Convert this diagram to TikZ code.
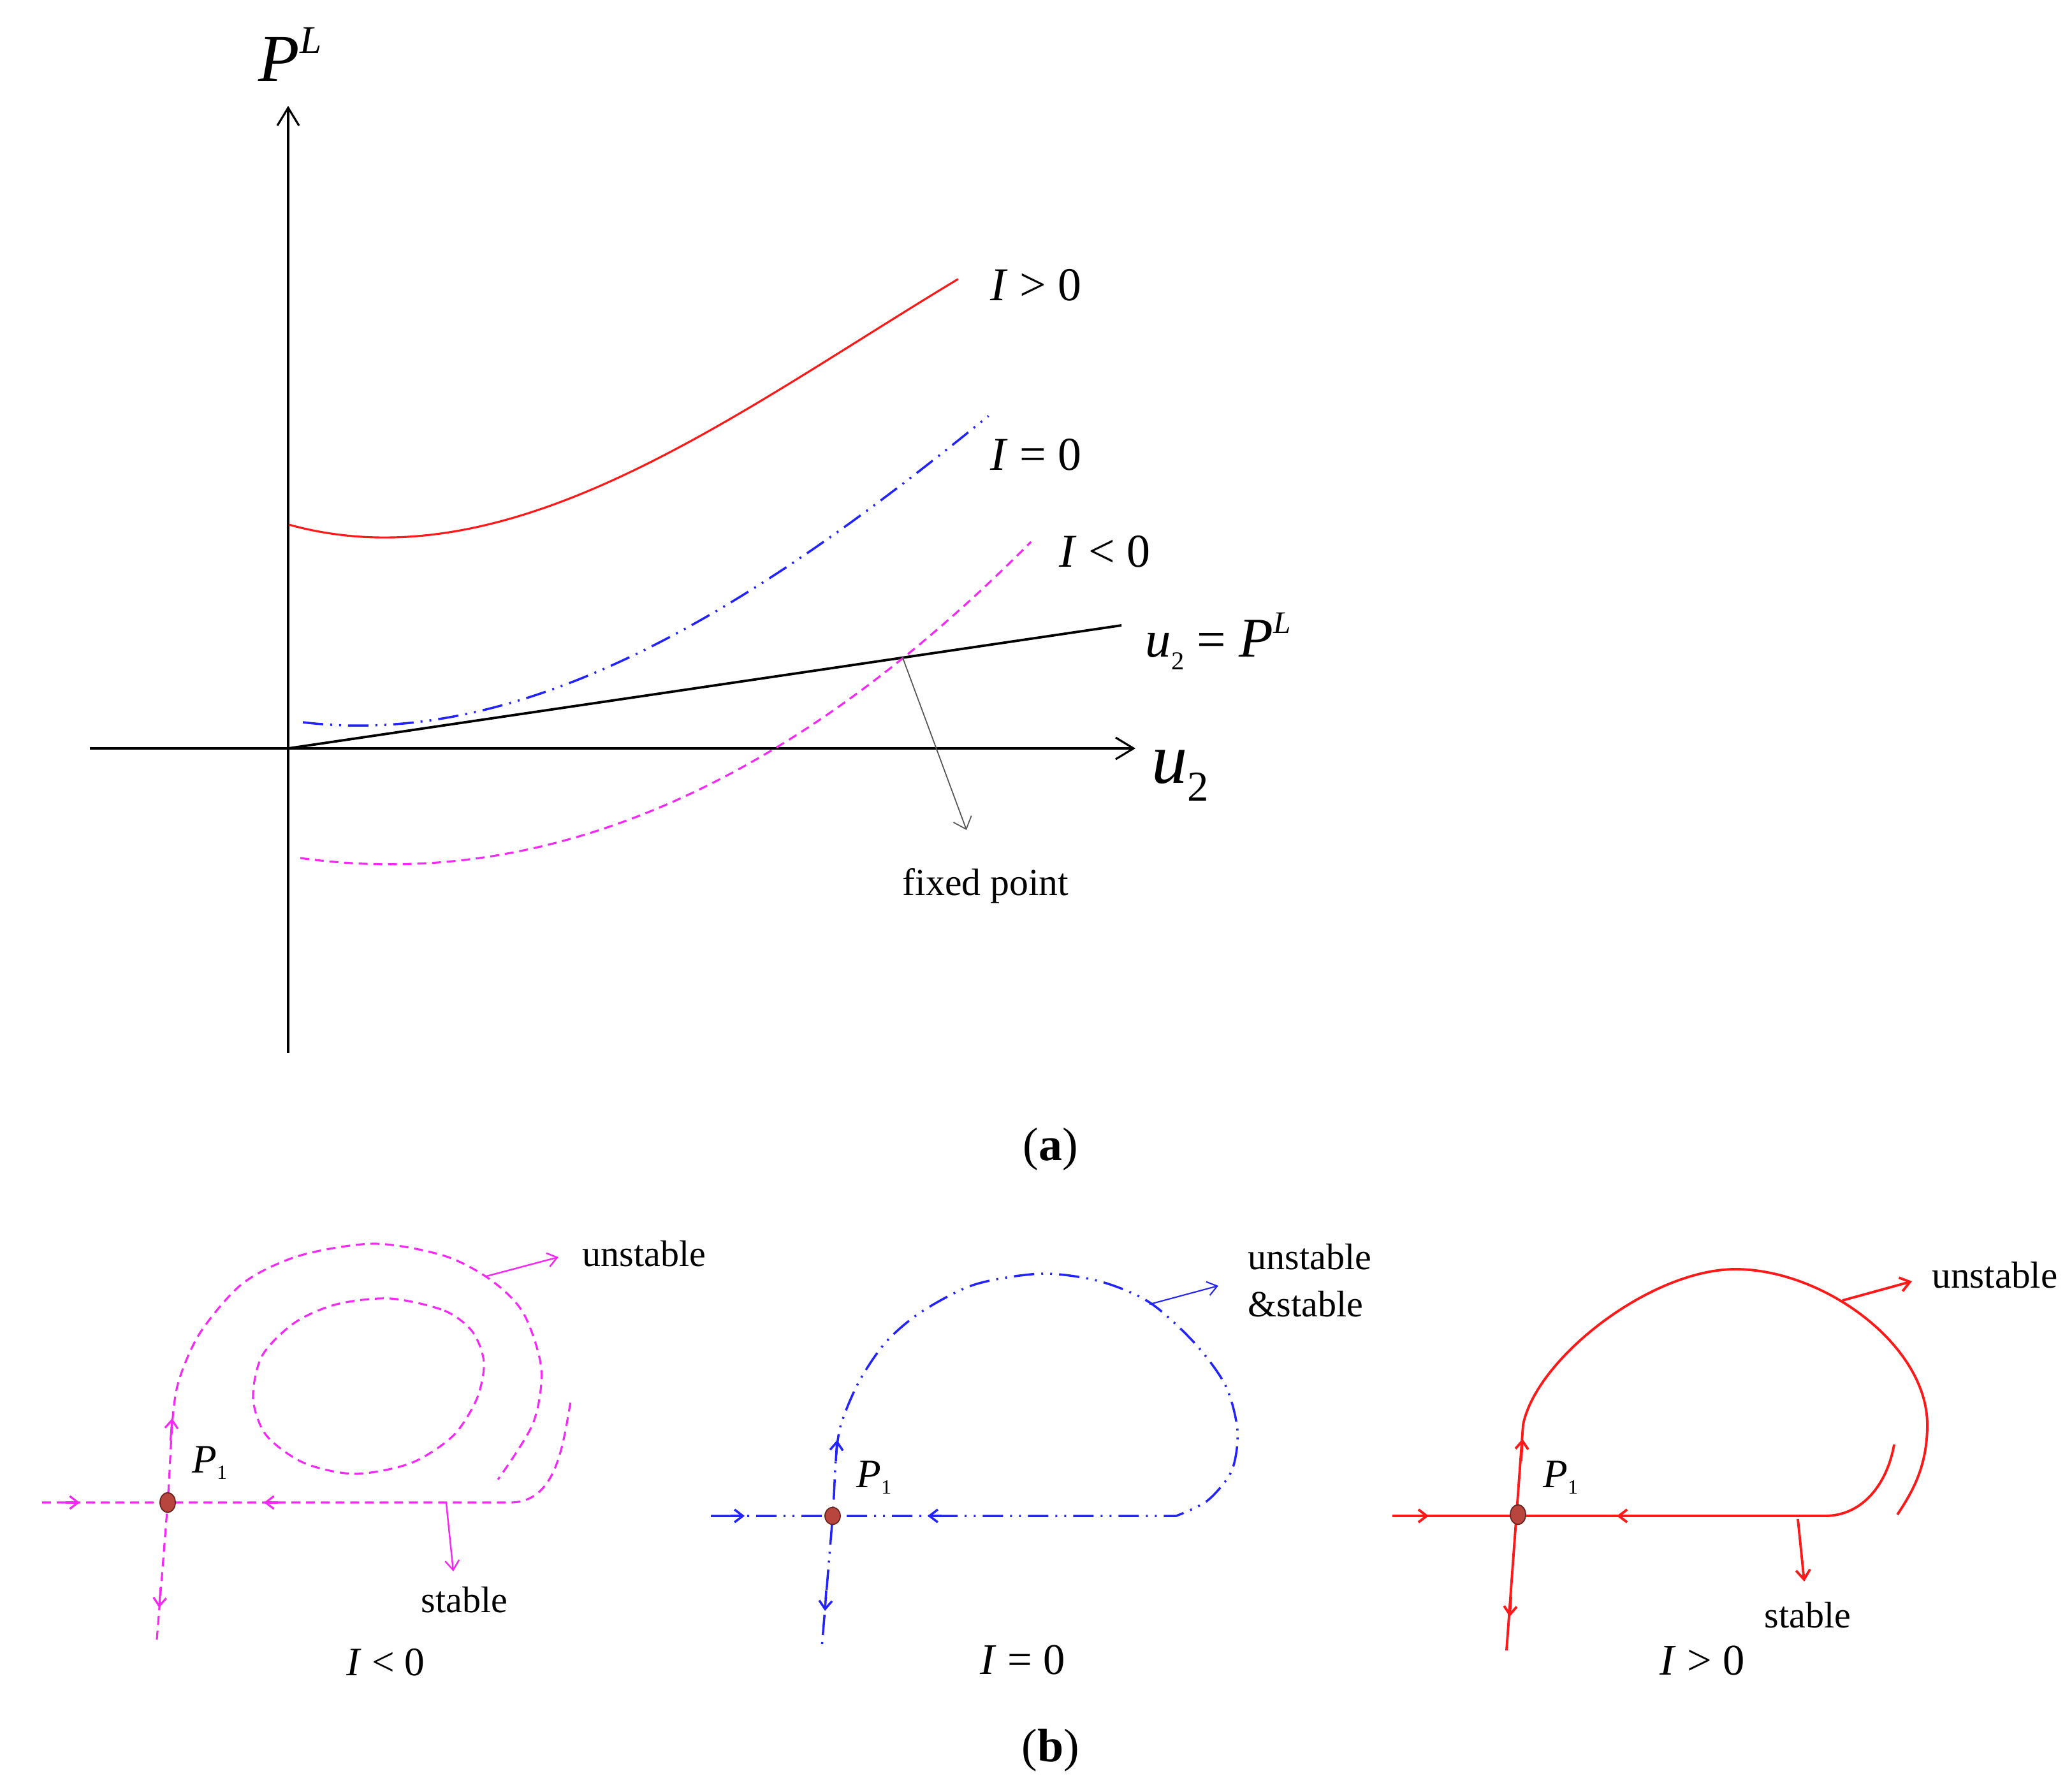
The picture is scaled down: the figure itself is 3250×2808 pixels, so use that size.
\documentclass[tikz,border=0pt]{standalone}
\usepackage{fontspec}
\setmainfont{Liberation Serif}
\usetikzlibrary{arrows.meta,shapes.geometric}
\definecolor{magc}{RGB}{245,40,245}
\definecolor{bluec}{RGB}{35,35,255}
\definecolor{redc}{RGB}{255,25,25}
\definecolor{dotf}{RGB}{185,70,62}
\definecolor{dotd}{RGB}{105,35,30}
\definecolor{fpc}{RGB}{85,85,85}
\begin{document}
\begin{tikzpicture}[x=0.01cm,y=-0.01cm,
  txt/.style={inner sep=0pt, anchor=base west, font=\fontsize{16.5}{19}\selectfont},
  bigtxt/.style={inner sep=0pt, anchor=base west, font=\fontsize{21}{24}\selectfont},
  axisline/.style={line width=0.9pt, -{Straight Barb[length=0.28cm,width=0.34cm]}},
  magdash/.style={magc, line width=0.9pt, dash pattern=on 0.14cm off 0.09cm},
  bluedash/.style={bluec, line width=1pt, dash pattern=on 0.32cm off 0.11cm on 0.03cm off 0.11cm on 0.03cm off 0.11cm},
  redline/.style={redc, line width=1.1pt},
  chev/.style={-{Straight Barb[length=0.13cm,width=0.2cm]}, solid},
  ptr/.style={line width=0.7pt, -{Straight Barb[length=0.15cm,width=0.22cm]}},
  pdot/.style={shape=ellipse, fill=dotf, draw=dotd, line width=0.5pt, minimum width=0.24cm, minimum height=0.31cm, inner sep=0pt}
]
\useasboundingbox (0,0) rectangle (3250,2808);

% ---------------- panel (a) ----------------
\coordinate (O) at (452,1174);
\coordinate (ytop) at (452,166);
\coordinate (ybot) at (452,1652);
\coordinate (xl) at (141,1174);
\coordinate (xr) at (1781,1174);
\coordinate (lineend) at (1759,981);
\draw[axisline] (ybot) -- (ytop);
\draw[axisline] (xl) -- (xr);
\draw[line width=1.1pt] (O) -- (lineend);

\draw[redc, line width=0.9pt] plot[domain=0:1.051, samples=90, smooth] ({453+1000*\x},{823+276*\x-1001.24*\x^2+370.3*\x^3});
\draw[bluedash] plot[domain=0:1.076, samples=90, smooth] ({475+1000*\x},{1133+120.42*\x-711.29*\x^2+170.93*\x^3});
\draw[magdash] plot[domain=0:1.147, samples=90, smooth] ({471+1000*\x},{1346+138.98*\x-493.61*\x^2-4.652*\x^3});

\coordinate (fp) at (1416,1032);
\coordinate (fptip) at (1516,1302);
\draw[fpc, line width=0.5pt, -{Straight Barb[length=0.17cm,width=0.3cm]}] (fp) -- (fptip);

\node[inner sep=0pt, anchor=base west, font=\fontsize{30}{32}\selectfont] (PL) at (405,127) {\textit{P}\raisebox{12.5pt}{\fontsize{17.5}{18}\selectfont\textit{L}}};
\node[inner sep=0pt, anchor=base west, font=\fontsize{32}{34}\selectfont] (u2) at (1806,1228) {\textit{u}\raisebox{-8pt}{\fontsize{19}{19}\selectfont 2}};
\node[inner sep=0pt, anchor=base west, font=\fontsize{23}{25}\selectfont] (eq) at (1796,1030) {\textit{u}\raisebox{-5.7pt}{\fontsize{11.5}{12}\selectfont 2} = {\fontsize{25}{26}\selectfont\textit{P}}\raisebox{10.5pt}{\fontsize{14}{14}\selectfont\textit{L}}};
\node[bigtxt] (Igt) at (1553,471) {\textit{I} > 0};
\node[bigtxt] (Ieq) at (1553,737) {\textit{I} = 0};
\node[bigtxt] (Ilt) at (1661,889) {\textit{I} < 0};
\node[txt, font=\fontsize{17}{19}\selectfont] (fplab) at (1415,1404) {fixed point};
\node[inner sep=0pt, font=\fontsize{21}{24}\selectfont] (capa) at (1648,1803) {(\textbf{a})};

% ---------------- panel (b) left: I<0 ----------------
\draw[magdash] (66,2357) -- (800,2357) to[out=0,in=-100] (895,2199);
\draw[magdash] plot[smooth] coordinates {(246,2572) (263,2357) (271,2223) (282,2161) (315,2089) (381,2013) (469,1970) (587,1951) (697,1970) (770,2008) (821,2060) (849,2147) (836,2233) (781,2321)};
\draw[magdash] plot[smooth cycle] coordinates {(612,2037) (697,2056) (741,2089) (759,2137) (748,2194) (711,2252) (645,2295) (557,2312) (477,2295) (418,2252) (397,2194) (411,2127) (462,2075) (528,2046)};
\draw[magc, line width=0.9pt, chev] (103,2357) -- (125,2357);
\draw[magc, line width=0.9pt, chev] (436,2357) -- (414,2357);
\draw[magc, line width=0.9pt, chev] (267.5,2260) -- (270,2225);
\draw[magc, line width=0.9pt, chev] (251.9,2490) -- (249.6,2522);
\node[pdot] (P1L) at (263,2357) {};
\coordinate (uLs) at (763,2002);
\coordinate (uLe) at (876,1972);
\draw[magc, ptr] (uLs) -- (uLe);
\coordinate (sLs) at (700,2358);
\coordinate (sLe) at (711,2465);
\draw[magc, ptr] (sLs) -- (sLe);
\node[txt] (unL) at (913,1986) {unstable};
\node[txt] (stL) at (660,2529) {stable};
\node[txt, font=\fontsize{18}{20}\selectfont] (P1Llab) at (301,2310) {\textit{P}\raisebox{-3pt}{\fontsize{9}{9}\selectfont 1}};
\node[txt, font=\fontsize{18}{20}\selectfont] (IL) at (543,2628) {\textit{I} < 0};

% ---------------- panel (b) middle: I=0 ----------------
\draw[bluedash] (1115,2378) -- plot[smooth] coordinates {(1845,2378) (1894,2354) (1932,2307) (1941,2244) (1922,2173) (1873,2106) (1803,2043) (1725,2010) (1634,1998) (1529,2015) (1445,2058) (1389,2106) (1347,2168) (1319,2235) (1311,2290) (1306,2378) (1289,2584)};
\draw[bluec, line width=1pt, chev] (1146,2378) -- (1168,2378);
\draw[bluec, line width=1pt, chev] (1477,2378) -- (1455,2378);
\draw[bluec, line width=1pt, chev] (1311,2292) -- (1313,2259);
\draw[bluec, line width=1pt, chev] (1296,2495) -- (1294,2527);
\node[pdot, minimum height=0.27cm] (P1M) at (1306,2378) {};
\coordinate (uMs) at (1803,2046);
\coordinate (uMe) at (1911,2017);
\draw[bluec, ptr, line width=0.6pt] (uMs) -- (uMe);
\node[txt] (unM) at (1957,1991) {unstable};
\node[txt] (stM) at (1957,2065) {\&stable};
\node[txt, font=\fontsize{18}{20}\selectfont] (P1Mlab) at (1343,2333) {\textit{P}\raisebox{-3pt}{\fontsize{9}{9}\selectfont 1}};
\node[txt, font=\fontsize{19.5}{21}\selectfont] (IM) at (1537,2626) {\textit{I} = 0};

% ---------------- panel (b) right: I>0 ----------------
\draw[redline] (2184,2378) -- (2862,2378) to[out=0,in=-100] (2971,2266);
\draw[redline] (2363,2589) -- (2389,2235) .. controls (2410,2130) and (2590,1991) .. (2722,1991)
  .. controls (2860,1991) and (3023,2110) .. (3023,2235)
  .. controls (3023,2300) and (3000,2340) .. (2976,2376);
\draw[redline, chev] (2219,2378) -- (2241,2378);
\draw[redline, chev] (2558,2378) -- (2536,2378);
\draw[redline, chev] (2386,2292) -- (2388,2257);
\draw[redline, chev] (2370,2505) -- (2368,2536);
\node[pdot] (P1R) at (2381,2376) {};
\coordinate (uRs) at (2890,2040);
\coordinate (uRe) at (2999,2010);
\draw[redc, ptr, line width=1.1pt] (uRs) -- (uRe);
\coordinate (sRs) at (2820,2383);
\coordinate (sRe) at (2830,2481);
\draw[redc, ptr, line width=1.1pt] (sRs) -- (sRe);
\node[txt, font=\fontsize{16.8}{19}\selectfont] (unR) at (3030,2020) {unstable};
\node[txt] (stR) at (2767,2553) {stable};
\node[txt, font=\fontsize{18}{20}\selectfont] (P1Rlab) at (2420,2333) {\textit{P}\raisebox{-3pt}{\fontsize{9}{9}\selectfont 1}};
\node[txt, font=\fontsize{19.5}{21}\selectfont] (IR) at (2603,2627) {\textit{I} > 0};

\node[inner sep=0pt, font=\fontsize{21}{24}\selectfont] (capb) at (1648,2746) {(\textbf{b})};
\end{tikzpicture}
\end{document}
